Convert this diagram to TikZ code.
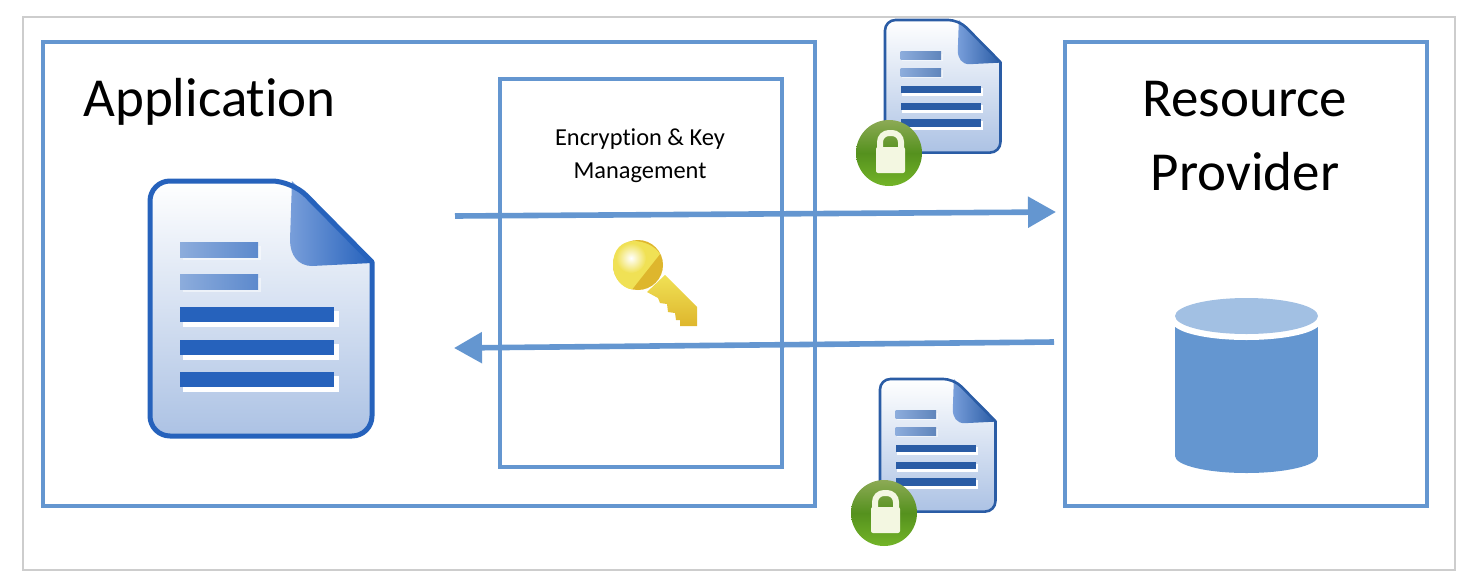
\documentclass[tikz,border=0pt]{standalone}
\usepackage{fontspec}
\setmainfont{Carlito}[RawFeature={-liga;-clig;-calt;-dlig}]
\usetikzlibrary{arrows.meta}
\definecolor{boxblue}{RGB}{100,150,208}
\definecolor{docblue}{RGB}{38,98,188}
\definecolor{docsmall}{RGB}{42,92,165}
\definecolor{docpale}{RGB}{172,194,228}
\definecolor{foldlight}{RGB}{120,158,218}
\definecolor{barlight}{RGB}{140,172,220}
\definecolor{lockgreen}{RGB}{115,180,40}
\definecolor{lockdark}{RGB}{140,170,85}
\definecolor{lockmid}{RGB}{85,145,30}
\definecolor{lockwhite}{RGB}{243,247,225}
\definecolor{keygold}{RGB}{222,182,45}
\definecolor{keylight}{RGB}{240,225,85}
\definecolor{framegrey}{RGB}{205,205,205}
\tikzset{
  panel/.style={draw=boxblue, line width=2pt, minimum width=#1, inner sep=0pt},
  bigtext/.style={font=\fontsize{27.5}{37}\selectfont, align=center, inner sep=0pt},
  smalltext/.style={font=\fontsize{12.2}{16.8}\selectfont, align=center, inner sep=0pt},
  flow/.style={draw=boxblue, line width=2.8pt, -{Triangle[length=14pt,width=15pt]}},
  barshadow/.style={fill=white}
}
% document sheet: x, y, scale, border width, bar colour
\newcommand{\docicon}[5]{
  \begin{scope}[shift={(#1,#2)}, scale=#3]
    \shade[top color=white, bottom color=docpale, rounded corners=#3*10pt]
      (0,0) -- (142,0) [sharp corners] -- (222,81) [rounded corners=#3*10pt] -- (222,255) -- (0,255) -- cycle;
    \foreach \ya/\xb in {61/108,93/108}{
      \fill[barshadow, opacity=.5] (33,\ya+4) rectangle (\xb+3,\ya+18);
      \shade[left color=barlight, right color=#5!75!white] (30,\ya) rectangle (\xb,\ya+15);
    }
    \foreach \ya/\xb in {126/184,159/184,191/184}{
      \fill[barshadow] (33,\ya+4) rectangle (\xb+5,\ya+20);
      \fill[#5] (30,\ya) rectangle (\xb,\ya+15);
    }
    \shade[left color=foldlight, right color=#5]
      (142,0) -- (222,81) -- (222,82) -- (162,85) .. controls (148,85) and (140,74) .. (140,59) -- cycle;
    \draw[#5, line width=#4, line join=round, rounded corners=#3*10pt]
      (0,0) -- (142,0) [sharp corners] -- (222,81) [rounded corners=#3*10pt] -- (222,255) -- (0,255) -- cycle;
  \end{scope}
}
% padlock badge: centre x, centre y
\newcommand{\lockicon}[2]{
  \begin{scope}[shift={(#1,#2)}]
    \shade[top color=lockdark, bottom color=lockgreen, middle color=lockmid] (0,0) circle [radius=33];
    \draw[lockwhite, line width=3pt, rounded corners=4.5pt] (-9,-5) -- (-9,-20) -- (12,-20) -- (12,-5);
    \fill[lockwhite, rounded corners=1pt] (-13,-6) rectangle (16,20);
  \end{scope}
}
\begin{document}
\begin{tikzpicture}[x=0.5pt, y=-0.5pt]
  \useasboundingbox (0,0) rectangle (1478,584);
  \draw[framegrey, line width=.6pt] (23,17) rectangle (1455,570);

  \node[panel=386pt, minimum height=232pt] (app) at (428.5,274) {};
  \node[panel=141pt, minimum height=194pt] (keybox) at (641,273) {};
  \node[panel=181pt, minimum height=232pt] (provider) at (1245.5,274) {};

  \node[bigtext, anchor=base west] (apptext) at (83,116) {Application};
  \node[bigtext] (providertext) at (1245,136) {Resource\\Provider};
  \node[smalltext] (keytext) at (640,155.5) {Encryption \& Key\\Management};

  \docicon{150}{181}{1}{2.5pt}{docblue}
  \docicon{885}{20}{.52}{1.3pt}{docsmall}
  \docicon{880}{379}{.52}{1.3pt}{docsmall}
  \lockicon{889}{153}
  \lockicon{884}{513}

  % key
  \shade[top color=keylight, bottom color=keygold] (665,275) -- (697,307) -- (697,326) -- (680,326) -- (680,320) -- (676,320)
    -- (675,313) -- (668,312) -- (667,304) -- (660,303) -- (658,298) -- (647,292) -- cycle;
  \fill[keygold] (638,265) circle [radius=25];
  \fill[keylight] (632,289.5) -- (660,254) .. controls (650,238) and (613,232) .. (613,265) .. controls (613,278) and (622,288) .. (632,289.5) -- cycle;
  \shade[inner color=white, outer color=keylight] (631,258) circle [radius=15];

  % database
  \fill[boxblue] (1175,322) rectangle (1318,456);
  \fill[boxblue] (1246.5,456) ellipse [x radius=71.5, y radius=17];
  \fill[white] (1246.5,322) ellipse [x radius=74, y radius=18];
  \fill[boxblue!60!white] (1246.5,316) ellipse [x radius=71.5, y radius=18];

  \coordinate (sendstart) at (455,216);
  \coordinate (sendend) at (1056,212);
  \coordinate (backstart) at (1054,342);
  \coordinate (backend) at (454,348);
  \draw[flow] (sendstart) -- (sendend);
  \draw[flow] (backstart) -- (backend);
\end{tikzpicture}
\end{document}
